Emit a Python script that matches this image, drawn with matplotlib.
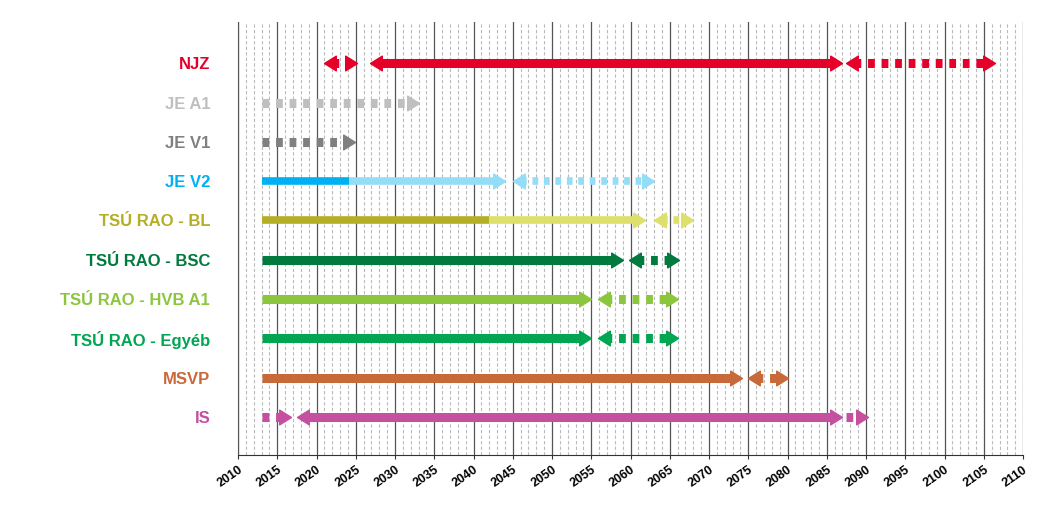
import matplotlib
matplotlib.use("Agg")
import matplotlib.pyplot as plt
from matplotlib.path import Path
from matplotlib.markers import MarkerStyle

labels = ["NJZ", "JE A1", "JE V1", "JE V2", "TSÚ RAO - BL", "TSÚ RAO - BSC",
          "TSÚ RAO - HVB A1", "TSÚ RAO - Egyéb", "MSVP", "IS"]
label_colors = ["#E4002B", "#BFBFBF", "#808080", "#00B0F0", "#B5AE27", "#007A3D",
                "#8CC63F", "#00A651", "#C8693A", "#C5509F"]

# segments: (row, start, end, dotted, color, head_left, head_right)
segments = [
    (0, 2021, 2025.2, True, "#E4002B", True, True),
    (0, 2026.8, 2087, False, "#E4002B", True, True),
    (0, 2087.5, 2106.4, True, "#E4002B", True, True),
    (1, 2013, 2033, True, "#BFBFBF", False, True),
    (2, 2013, 2024.9, True, "#808080", False, True),
    (3, 2013, 2024.1, False, "#00B0F0", False, False),
    (3, 2024.1, 2044, False, "#93DDF7", False, True),
    (3, 2045, 2063, True, "#93DDF7", True, True),
    (4, 2013, 2042, False, "#B5AE27", False, False),
    (4, 2042, 2061.8, False, "#DDE06A", False, True),
    (4, 2063, 2068, True, "#DDE06A", True, True),
    (5, 2013, 2059, False, "#007A3D", False, True),
    (5, 2059.8, 2066.2, True, "#007A3D", True, True),
    (6, 2013, 2055, False, "#8CC63F", False, True),
    (6, 2055.8, 2066, True, "#8CC63F", True, True),
    (7, 2013, 2055, False, "#00A651", False, True),
    (7, 2055.8, 2066, True, "#00A651", True, True),
    (8, 2013, 2074.2, False, "#C8693A", False, True),
    (8, 2075, 2080, True, "#C8693A", True, True),
    (9, 2013, 2016.7, True, "#C5509F", False, True),
    (9, 2017.5, 2087, False, "#C5509F", True, True),
    (9, 2087.5, 2090.2, True, "#C5509F", False, True),
]

years_major = list(range(2010, 2111, 5))

fig = plt.figure(figsize=(10.48, 5.12), dpi=100)
ax = fig.add_axes([0.2271, 0.1113, 0.7491, 0.8457])
ax.set_xlim(2010, 2110)
ax.set_ylim(9.97, -1.05)

for yr in range(2010, 2111):
    if yr % 5 == 0:
        ax.axvline(yr, color="#555555", lw=0.9, zorder=1)
    else:
        ax.axvline(yr, color="#BBBBBB", lw=0.8, ls=(0, (3, 2)), zorder=0)

right_tip = MarkerStyle(Path([(0, 0), (-1.2, 0.75), (-1.2, -0.75), (0, 0)]))
left_tip = MarkerStyle(Path([(0, 0), (1.2, 0.75), (1.2, -0.75), (0, 0)]))

for row, s, e, dotted, col, hl, hr in segments:
    lw = 5.5 if row in (3, 4) else 6.5
    ls = (0, (0.75, 0.75)) if dotted else "-"
    xs = s + (1.0 if hl else 0)
    xe = e - (1.0 if hr else 0)
    ax.plot([xs, xe], [row, row], color=col, lw=lw, ls=ls,
            solid_capstyle="butt", dash_capstyle="butt", zorder=3)
    if hr:
        ax.plot([e], [row], marker=right_tip, ms=17, color=col, mec=col, zorder=4)
    if hl:
        ax.plot([s], [row], marker=left_tip, ms=17, color=col, mec=col, zorder=4)

ax.set_yticks(range(len(labels)))
ax.set_yticklabels(labels, fontweight="bold", fontsize=12, family="Liberation Sans")
for t, c in zip(ax.get_yticklabels(), label_colors):
    t.set_color(c)
ax.tick_params(axis="y", length=0, pad=20)
ax.set_xticks(years_major)
ax.set_xticklabels([str(y) for y in years_major], rotation=35, ha="right",
                   rotation_mode="anchor", fontweight="bold", fontsize=9,
                   family="Liberation Sans")
ax.tick_params(axis="x", length=3, color="#333333")
for sp in ["top", "right"]:
    ax.spines[sp].set_visible(False)
ax.spines["left"].set_color("#555555")
ax.spines["bottom"].set_color("#333333")

fig.savefig("out.png", dpi=100)
